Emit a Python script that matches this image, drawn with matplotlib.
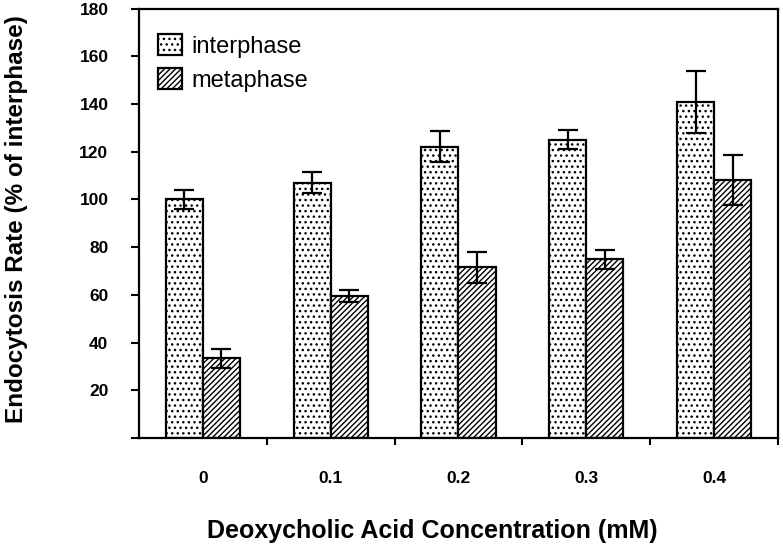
import matplotlib
matplotlib.use("Agg")
import matplotlib.pyplot as plt
import numpy as np

categories = ["0", "0.1", "0.2", "0.3", "0.4"]
interphase = [100, 107, 122, 125, 141]
interphase_err = [4, 4.5, 6.5, 4, 13]
metaphase = [33.5, 59.5, 71.5, 75, 108]
metaphase_err = [4, 2.5, 6.5, 4, 10.5]
yticks = [0, 20, 40, 60, 80, 100, 120, 140, 160, 180]

plt.rcParams['font.family'] = ['Liberation Sans', 'DejaVu Sans']
plt.rcParams['hatch.linewidth'] = 1.0

fig = plt.figure(figsize=(7.83, 5.5), dpi=100)
ax = fig.add_axes([0.1775, 0.2036, 0.8161, 0.7809])

x = np.arange(len(categories))
w = 0.29
ax.bar(x - w/2, interphase, w, facecolor='white', edgecolor='black', linewidth=1.6,
       hatch='...', label='interphase', zorder=2)
ax.bar(x + w/2, metaphase, w, facecolor='white', edgecolor='black', linewidth=1.6,
       hatch='//////', label='metaphase', zorder=2)
ax.errorbar(x - w/2, interphase, yerr=interphase_err, fmt='none', ecolor='black',
            elinewidth=1.6, capsize=7, capthick=1.6, zorder=3)
ax.errorbar(x + w/2, metaphase, yerr=metaphase_err, fmt='none', ecolor='black',
            elinewidth=1.6, capsize=7, capthick=1.6, zorder=3)

ax.set_xlim(-0.5, len(categories) - 0.5)
ax.set_ylim(0, 180)
ax.set_yticks(yticks)
ax.set_yticklabels([''] + [str(v) for v in yticks[1:]], fontweight='bold', fontsize=12.5)
ax.set_xticks(x + 0.5, minor=False)
ax.set_xticklabels([])
ax.set_xticks(x, minor=True)
ax.set_xticklabels(categories, minor=True, fontweight='bold', fontsize=12.5)
ax.tick_params(axis='x', which='minor', length=0, pad=24)
ax.tick_params(axis='x', which='major', direction='out', length=5, width=1.5)
ax.tick_params(axis='y', direction='out', length=6, width=1.5, pad=16)
for s in ax.spines.values():
    s.set_linewidth(1.6)

ax.set_xlabel('Deoxycholic Acid Concentration (mM)', fontweight='bold', fontsize=18)
ax.set_ylabel('Endocytosis Rate (% of interphase)', fontweight='bold', fontsize=17.5)
ax.xaxis.set_label_coords(0.4585, -0.188)
ax.yaxis.set_label_coords(-0.174, 0.51)

leg = ax.legend(loc='upper left', frameon=False, fontsize=17, handlelength=1.0,
                handleheight=0.95, bbox_to_anchor=(0.0297, 0.94), borderaxespad=0,
                borderpad=0, labelspacing=0.45, handletextpad=0.4)

fig.savefig('out.png', dpi=100)
